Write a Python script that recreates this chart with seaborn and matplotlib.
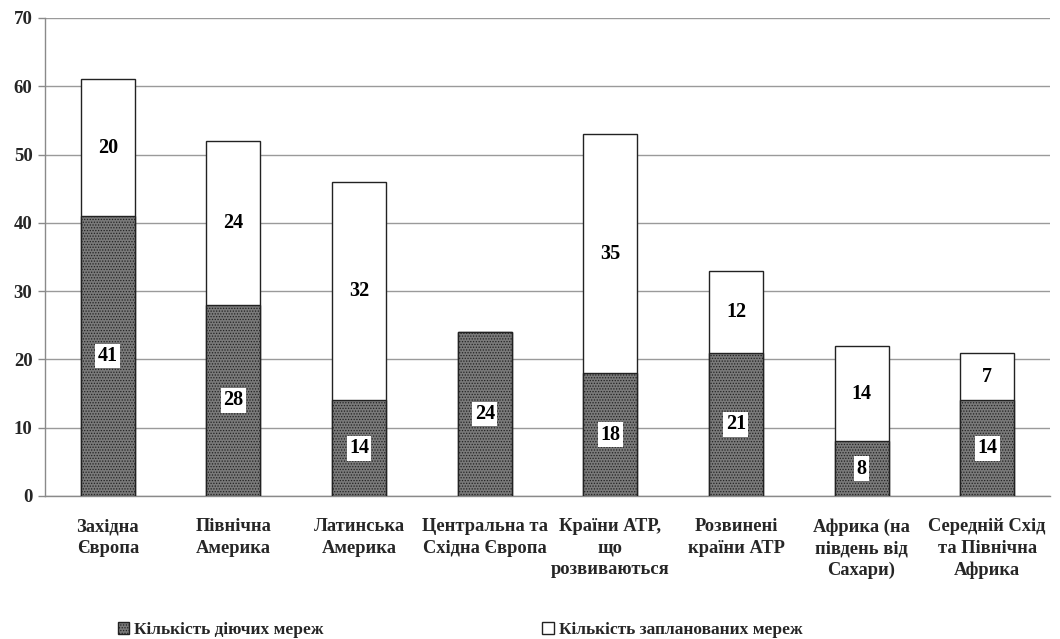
import matplotlib
matplotlib.use("Agg")
import matplotlib.pyplot as plt
import seaborn as sns
import pandas as pd
import numpy as np
from matplotlib.patches import Patch

categories = ["Західна\nЄвропа", "Північна\nАмерика", "Латинська\nАмерика",
              "Центральна та\nСхідна Європа", "Країни АТР,\nщо\nрозвиваються",
              "Розвинені\nкраїни АТР", "Африка (на\nпівдень від\nСахари)",
              "Середній Схід\nта Північна\nАфрика"]
active = [41, 28, 14, 24, 18, 21, 8, 14]
planned = [20, 24, 32, 0, 35, 12, 14, 7]
series_names = ["Кількість діючих мереж", "Кількість запланованих мереж"]
yticks = [0, 10, 20, 30, 40, 50, 60, 70]

sns.set_theme(style="white")
plt.rcParams['font.family'] = ['Liberation Serif', 'DejaVu Serif']
plt.rcParams['font.weight'] = 'bold'
plt.rcParams['hatch.color'] = '#4a4a4a'
plt.rcParams['hatch.linewidth'] = 0.6

df = pd.DataFrame({"cat": categories, "active": active, "planned": planned})
df["total"] = df["active"] + df["planned"]

fig = plt.figure(figsize=(10.6, 6.39), dpi=100)
ax = fig.add_axes([45/1060, 1-496/639, 1005/1060, (496-18)/639])

sns.barplot(data=df, x="cat", y="total", color="white", edgecolor="#222222",
            linewidth=1.0, width=0.43, saturation=1, ax=ax, zorder=3)
sns.barplot(data=df, x="cat", y="active", color="#7a7a7a", edgecolor="#222222",
            linewidth=1.0, width=0.43, saturation=1, ax=ax, zorder=4, hatch="......")

# labels
for i, (a, p) in enumerate(zip(active, planned)):
    ax.text(i, a/2, str(a), ha="center", va="center", fontsize=14.5, fontweight="bold",
            color="black", zorder=6,
            bbox=dict(boxstyle="square,pad=0.12", fc="white", ec="none"))
    if p > 0:
        ax.text(i, a + p/2, str(p), ha="center", va="center", fontsize=14.5,
                fontweight="bold", color="black", zorder=6)

ax.set_ylim(0, 70)
ax.set_xlim(-0.5, len(categories) - 0.5)
ax.set_yticks(yticks)
ax.set_yticklabels([str(t) for t in yticks], fontsize=13.5, fontweight="bold")
ax.yaxis.grid(True, color="#9a9a9a", linewidth=1.0, zorder=0)
ax.set_axisbelow(True)
ax.set_xlabel("")
ax.set_ylabel("")
ax.set_xticks(range(len(categories)))
ax.set_xticklabels(categories, fontsize=13.3, fontweight="bold", linespacing=1.35)
ax.tick_params(axis="x", which="major", length=0, pad=16)
ax.set_xticks(np.arange(-0.5, len(categories), 1.0), minor=True)
ax.tick_params(axis="x", which="minor", length=5, color="#8a8a8a", width=1)
ax.tick_params(axis="y", length=5, color="#8a8a8a", width=1, pad=4, left=True)
for s in ["top", "right"]:
    ax.spines[s].set_visible(False)
for s in ["left", "bottom"]:
    ax.spines[s].set_color("#8a8a8a")
    ax.spines[s].set_linewidth(1.0)

handles = [Patch(facecolor="#7a7a7a", edgecolor="#222222", hatch="......", label=series_names[0]),
           Patch(facecolor="white", edgecolor="#222222", label=series_names[1])]
fig.legend(handles=handles, loc="center", bbox_to_anchor=(460/1060, 1-630/639), ncol=2,
           frameon=False, handlelength=0.65, handleheight=0.65,
           handletextpad=0.3, columnspacing=12.6, prop={"weight": "bold", "size": 12.5})

fig.savefig("out.png", dpi=100)
